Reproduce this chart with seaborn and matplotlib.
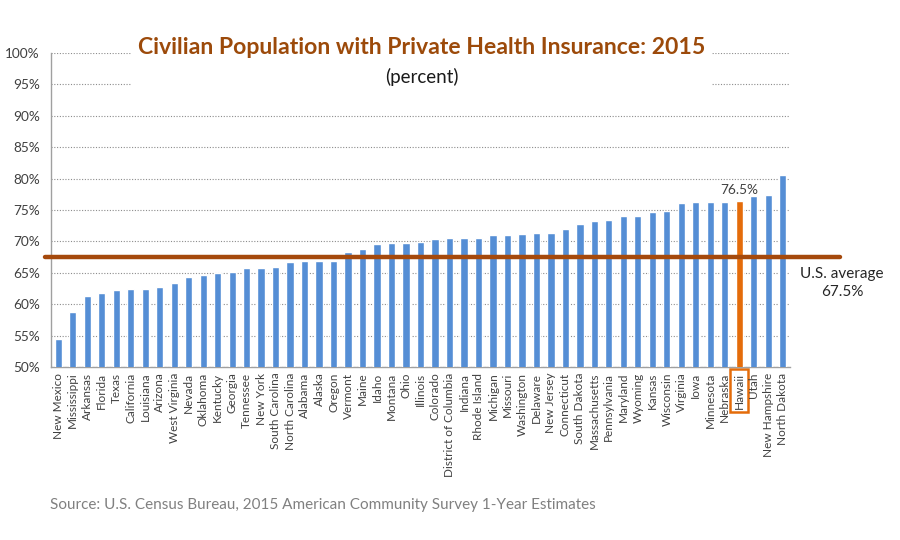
import matplotlib
matplotlib.use("Agg")
import matplotlib.pyplot as plt
import seaborn as sns
from matplotlib.patches import Rectangle

states = [
    "New Mexico", "Mississippi", "Arkansas", "Florida", "Texas", "California",
    "Louisiana", "Arizona", "West Virginia", "Nevada", "Oklahoma", "Kentucky",
    "Georgia", "Tennessee", "New York", "South Carolina", "North Carolina",
    "Alabama", "Alaska", "Oregon", "Vermont", "Maine", "Idaho", "Montana",
    "Ohio", "Illinois", "Colorado", "District of Columbia", "Indiana",
    "Rhode Island", "Michigan", "Missouri", "Washington", "Delaware",
    "New Jersey", "Connecticut", "South Dakota", "Massachusetts",
    "Pennsylvania", "Maryland", "Wyoming", "Kansas", "Wisconsin", "Virginia",
    "Iowa", "Minnesota", "Nebraska", "Hawaii", "Utah", "New Hampshire",
    "North Dakota",
]
pct_private = [
    54.5, 58.7, 61.3, 61.8, 62.2, 62.4, 62.4, 62.8, 63.4, 64.4, 64.7, 65.0,
    65.2, 65.7, 65.8, 66.0, 66.7, 66.8, 66.9, 66.9, 68.3, 68.8, 69.6, 69.7,
    69.7, 69.9, 70.4, 70.5, 70.5, 70.6, 71.0, 71.0, 71.1, 71.4, 71.3, 71.9,
    72.7, 73.3, 73.4, 74.0, 74.0, 74.7, 74.9, 76.1, 76.2, 76.3, 76.3, 76.5,
    77.3, 77.4, 80.6,
]
highlight = "Hawaii"
us_average = 67.5
y_ticks = list(range(50, 101, 5))

BLUE = "#558ED5"
ORANGE = "#E46C0A"
BROWN = "#9C4A0A"
TEXT = "#404040"

sns.set_theme(style="white")
plt.rcParams["font.family"] = ["Lato", "DejaVu Sans"]

fig = plt.figure(figsize=(9, 5.4), dpi=100)
ax = fig.add_axes([51 / 900, 1 - 367 / 540, 739 / 900, 314 / 540])

palette = {s: (ORANGE if s == highlight else BLUE) for s in states}
sns.barplot(x=states, y=pct_private, hue=states, palette=palette,
            legend=False, width=0.5, saturation=1, ax=ax, zorder=3)

ax.set_xlim(-0.5, len(states) - 0.5)
ax.set_ylim(50, 100)
ax.set_yticks(y_ticks)
ax.set_yticklabels([f"{v}%" for v in y_ticks], fontsize=9.8, color=TEXT)
ax.set_xticks(range(len(states)))
ax.set_xticklabels(states, rotation=90, fontsize=8.5, color=TEXT)
ax.set_xticks([i + 0.5 for i in range(-1, len(states))], minor=True)
ax.tick_params(axis="x", which="major", length=0, pad=4)
ax.tick_params(axis="x", which="minor", length=4, color="#A0A0A0", width=0.8)
ax.tick_params(axis="y", length=5, color="#A0A0A0", width=0.8, pad=3)
ax.set_xlabel("")
ax.set_ylabel("")

ax.yaxis.grid(True, linestyle=(0, (1, 1.5)), color="#8C8C8C", linewidth=0.8)
ax.set_axisbelow(True)
for side in ("top", "right"):
    ax.spines[side].set_visible(False)
for side in ("left", "bottom"):
    ax.spines[side].set_color("#A0A0A0")
    ax.spines[side].set_linewidth(1.0)

# U.S. average line runs out past the last bar
ax.axhline(us_average, xmin=-0.008, xmax=1.068, color="#A5490C",
           linewidth=3.2, clip_on=False, zorder=4)
ax.text(1.0704, 0.2675, f"U.S. average\n{us_average}%", transform=ax.transAxes,
        ha="center", va="center", fontsize=11.0, color="#262626",
        linespacing=1.35)

# Hawaii label and boxed tick label
hi = states.index(highlight)
ax.text(hi, pct_private[hi] + 0.8, f"{pct_private[hi]}%", ha="center",
        va="bottom", fontsize=9.8, color=TEXT)
for lbl in ax.get_xticklabels():
    if lbl.get_text() == highlight:
        lbl.set_bbox(dict(facecolor="none", edgecolor=ORANGE, linewidth=1.8,
                          boxstyle="square,pad=0.3"))

# Title block on a white panel
fig.patches.append(Rectangle((132 / 900, 1 - 98 / 540), 580 / 900, 68 / 540,
                             transform=fig.transFigure, facecolor="white",
                             edgecolor="none", zorder=5))
fig.text(422 / 900, 1 - 48 / 540,
         "Civilian Population with Private Health Insurance: 2015",
         ha="center", va="center", fontsize=16.6, fontweight="bold",
         color=BROWN, zorder=6)
fig.text(422 / 900, 1 - 77 / 540, "(percent)", ha="center", va="center",
         fontsize=13.5, color="#1a1a1a", zorder=6)

fig.text(50 / 900, 1 - 505 / 540,
         "Source: U.S. Census Bureau, 2015 American Community Survey 1-Year Estimates",
         ha="left", va="center", fontsize=11.0, color="#808080")

fig.savefig("out.png", dpi=100)
